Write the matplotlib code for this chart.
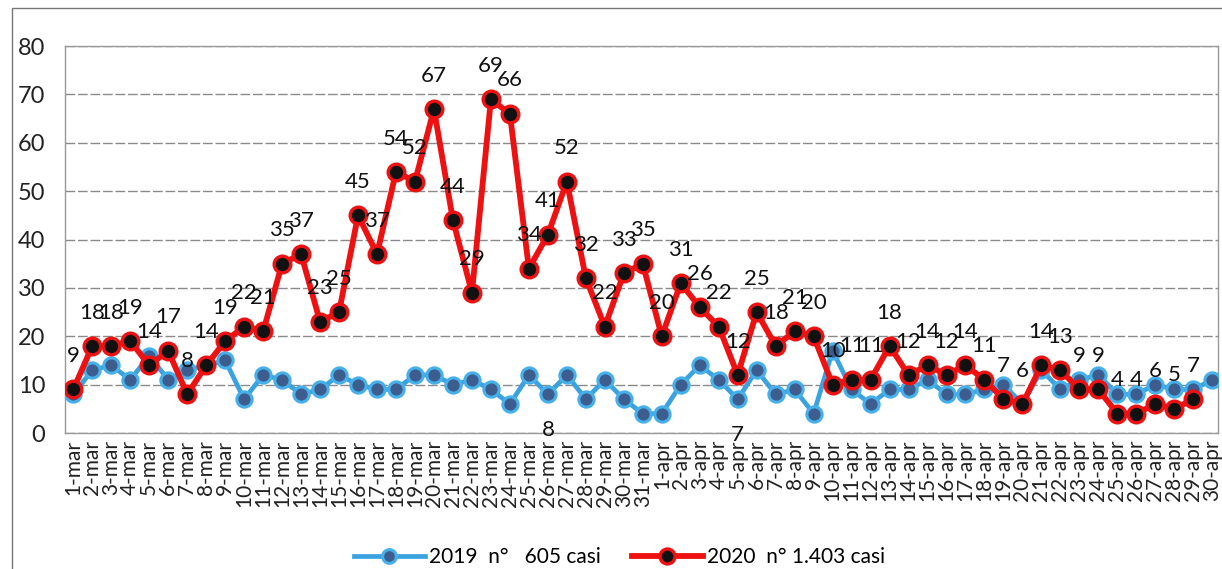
import numpy as np
import matplotlib
matplotlib.use("Agg")
import matplotlib.pyplot as plt
from matplotlib.patches import Rectangle

plt.rcParams['font.family'] = ['Lato', 'DejaVu Sans']

days = [f"{d}-mar" for d in range(1, 32)] + [f"{d}-apr" for d in range(1, 31)]

cases_2019 = [8, 13, 14, 11, 16, 11, 13, 14, 15, 7,
              12, 11, 8, 9, 12, 10, 9, 9, 12, 12,
              10, 11, 9, 6, 12, 8, 12, 7, 11, 7,
              4,
              4, 10, 14, 11, 7, 13, 8, 9, 4, 17,
              9, 6, 9, 9, 11, 8, 8, 9, 10, 6,
              13, 9, 11, 12, 8, 8, 10, 9, 9, 11]

cases_2020 = [9, 18, 18, 19, 14, 17, 8, 14, 19, 22,
              21, 35, 37, 23, 25, 45, 37, 54, 52, 67,
              44, 29, 69, 66, 34, 41, 52, 32, 22, 33,
              35,
              20, 31, 26, 22, 12, 25, 18, 21, 20, 10,
              11, 11, 18, 12, 14, 12, 14, 11, 7, 6,
              14, 13, 9, 9, 4, 4, 6, 5, 7, np.nan]

labeled_2019 = ["26-mar", "5-apr"]

label_2019 = "2019  n°   605 casi"
label_2020 = "2020  n° 1.403 casi"

fig = plt.figure(figsize=(12.22, 5.69), dpi=100)
ax = fig.add_axes([0.053, 0.239, 0.9437, 0.68])

# outer chart border
fig.patches.append(Rectangle((0.0098, -0.01), 0.995, 0.996, transform=fig.transFigure,
                             fill=False, edgecolor='#777777', linewidth=1.0))

x = np.arange(len(days))

ax.plot(x, cases_2019, color='#3aa2de', linewidth=3.4, marker='o', markersize=11,
        markerfacecolor='#3d5d8e', markeredgecolor='#45b0ea', markeredgewidth=2.2,
        label=label_2019, zorder=3)
ax.plot(x, cases_2020, color='#ee1111', linewidth=4.2, marker='o', markersize=12,
        markerfacecolor='#111111', markeredgecolor='#ee1111', markeredgewidth=2.4,
        label=label_2020, zorder=4)

for xi, v in zip(x, cases_2020):
    if not np.isnan(v):
        ax.annotate(f"{int(v)}", (xi, v), xytext=(0, 24), textcoords='offset points',
                    ha='center', va='center', fontsize=16, color='#111111', zorder=6)

for xi, (d, v) in enumerate(zip(days, cases_2019)):
    if d in labeled_2019:
        ax.annotate(f"{int(v)}", (xi, v), xytext=(0, -26), textcoords='offset points',
                    ha='center', va='center', fontsize=16, color='#111111', zorder=6)

ax.set_ylim(0, 80)
ax.set_yticks(np.arange(0, 81, 10))
ax.set_xlim(-0.45, 60.3)
ax.set_xticks(x)
ax.set_xticklabels(days, rotation=90, fontsize=15, color='#222222')
ax.tick_params(axis='x', length=0, pad=5)
ax.tick_params(axis='y', length=0, pad=14, labelsize=17, labelcolor='#222222')

ax.yaxis.grid(True, color='#8a8a8a', linewidth=1.0, linestyle=(0, (7, 2)))
ax.set_axisbelow(True)
for s in ax.spines.values():
    s.set_color('#999999')
    s.set_linewidth(1.0)

fig.legend(loc='center', bbox_to_anchor=(0.507, 0.021), ncol=2, frameon=False,
           fontsize=15, handlelength=3.4, columnspacing=1.5, handletextpad=0.2,
           markerscale=0.9)

fig.savefig("out.png", dpi=100)
